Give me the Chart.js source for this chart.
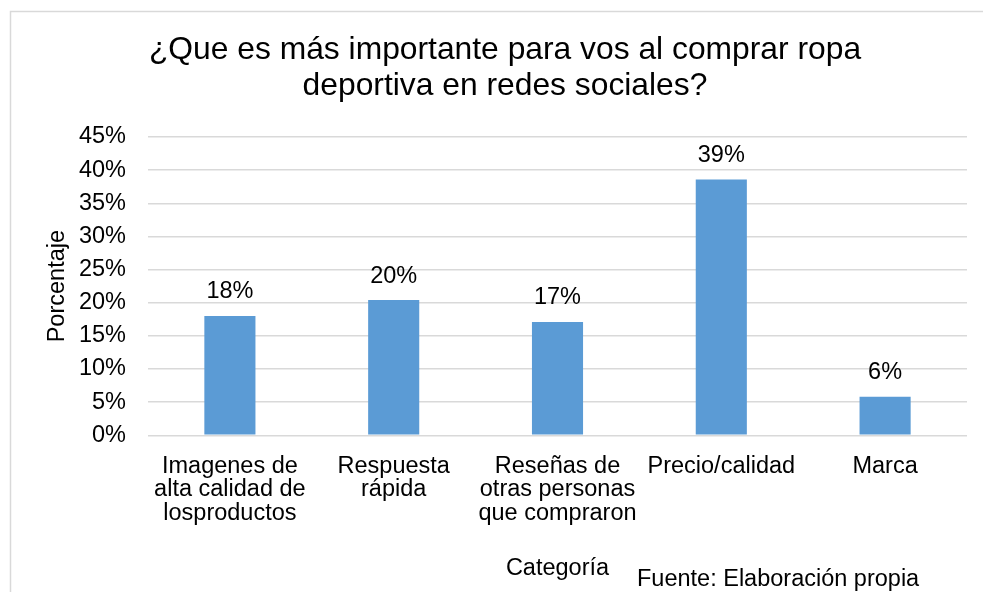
<!DOCTYPE html>
<html>
<head>
<meta charset="utf-8">
<script src="https://cdn.jsdelivr.net/npm/chart.js@4.4.1/dist/chart.umd.min.js"></script>
<style>
  html, body { margin:0; padding:0; background:#fff; }
  #wrap { width:983px; height:592px; position:relative; }
</style>
</head>
<body>
<div id="wrap"><canvas id="chart" width="983" height="592"></canvas></div>
<script>
// survey answers, share of respondents in %
const categories = [
  ['Imagenes de', 'alta calidad de', 'losproductos'],
  ['Respuesta', 'rápida'],
  ['Reseñas de', 'otras personas', 'que compraron'],
  'Precio/calidad',
  'Marca'
];
const percentages = [18.0, 20.4, 17.1, 38.6, 5.8];
const yTicks = [0, 5, 10, 15, 20, 25, 30, 35, 40, 45];

const FONT = "'Liberation Sans', Arial, sans-serif";
const BAR_COLOR = '#5B9BD5';
const GRID_COLOR = '#d9d9d9';

// light frame around the whole chart object
const framePlugin = {
  id: 'frame',
  beforeDraw(chart) {
    const ctx = chart.ctx;
    ctx.save();
    ctx.fillStyle = '#fff';
    ctx.fillRect(0, 0, chart.width, chart.height);
    ctx.strokeStyle = GRID_COLOR;
    ctx.lineWidth = 1.5;
    ctx.strokeRect(10.5, 11.5, chart.width + 20, chart.height + 20);
    ctx.restore();
  }
};

// value labels above each bar
const valueLabels = {
  id: 'valueLabels',
  afterDatasetsDraw(chart) {
    const ctx = chart.ctx;
    const meta = chart.getDatasetMeta(0);
    ctx.save();
    ctx.font = `23.5px ${FONT}`;
    ctx.fillStyle = '#000';
    ctx.textAlign = 'center';
    ctx.textBaseline = 'alphabetic';
    meta.data.forEach((bar, i) => {
      ctx.fillText(Math.round(percentages[i]) + '%', bar.x, bar.y - 17.5);
    });
    ctx.restore();
  }
};

// source note, bottom right
const sourceNote = {
  id: 'sourceNote',
  afterDraw(chart) {
    const ctx = chart.ctx;
    ctx.save();
    ctx.font = `23.5px ${FONT}`;
    ctx.fillStyle = '#000';
    ctx.textAlign = 'left';
    ctx.textBaseline = 'alphabetic';
    ctx.fillText('Fuente: Elaboración propia', 637, 586);
    ctx.restore();
  }
};

new Chart(document.getElementById('chart'), {
  type: 'bar',
  data: {
    labels: categories,
    datasets: [{
      data: percentages,
      backgroundColor: BAR_COLOR,
      borderWidth: 0,
      barPercentage: 0.312,
      categoryPercentage: 1
    }]
  },
  options: {
    responsive: false,
    animation: false,
    devicePixelRatio: 1,
    layout: { padding: { top: 32, left: 43, right: 16, bottom: 9.4 } },
    plugins: {
      legend: { display: false },
      tooltip: { enabled: false },
      title: {
        display: true,
        text: ['¿Que es más importante para vos al comprar ropa', 'deportiva en redes sociales?'],
        color: '#000',
        font: { family: FONT, size: 31.8, weight: 'normal', lineHeight: '36px' },
        padding: { top: 0, bottom: 33 }
      }
    },
    scales: {
      x: {
        afterFit(scale) { scale.height = 147.3; },
        grid: { display: false, drawTicks: false },
        border: { display: false },
        ticks: {
          color: '#000',
          font: { family: FONT, size: 23.5, lineHeight: '23.3px' },
          padding: 19.5,
          maxRotation: 0,
          autoSkip: false
        },
        title: {
          display: true,
          text: 'Categoría',
          color: '#000',
          font: { family: FONT, size: 23.5, lineHeight: 1.2 },
          padding: { top: 32.7, bottom: 0 }
        }
      },
      y: {
        min: 0,
        max: 45,
        afterBuildTicks(scale) {
          scale.ticks = yTicks.map(v => ({ value: v }));
        },
        afterFit(scale) { scale.width = 105; },
        grid: { color: GRID_COLOR, lineWidth: 1.5, drawTicks: false },
        border: { display: false },
        ticks: {
          color: '#000',
          font: { family: FONT, size: 23.5 },
          padding: 22,
          autoSkip: false,
          callback: v => v + '%'
        },
        title: {
          display: true,
          text: 'Porcentaje',
          color: '#000',
          font: { family: FONT, size: 23.5, lineHeight: 1.2 },
          padding: { top: 0, bottom: 7.4 }
        }
      }
    }
  },
  plugins: [framePlugin, valueLabels, sourceNote]
});
</script>
</body>
</html>
